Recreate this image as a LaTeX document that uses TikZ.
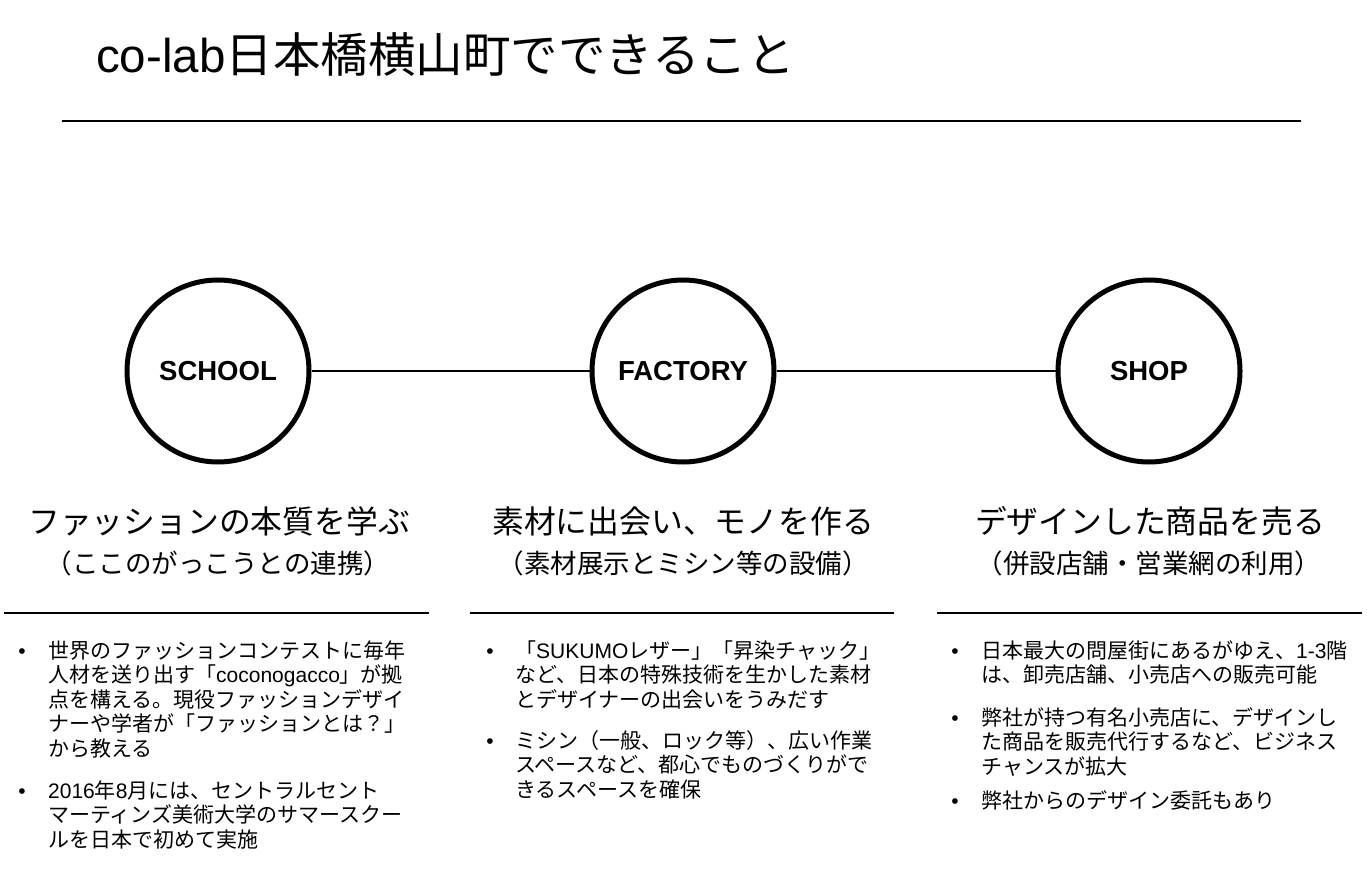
\documentclass[tikz,border=0pt]{standalone}
\usepackage{fontspec}
\setmainfont{Noto Sans CJK JP}
\newfontfamily\lat{Liberation Sans}
\begin{document}
\begin{tikzpicture}[x=1pt,y=-1pt,
  hub/.style={circle, draw, line width=5pt, minimum size=182pt, inner sep=0pt, font=\lat\bfseries\fontsize{27.5}{30}\selectfont},
  link/.style={line width=2pt},
  rule/.style={line width=2pt},
  title/.style={anchor=base west, inner sep=0pt, font=\fontsize{47.5}{52}\selectfont},
  head/.style={anchor=base, inner sep=0pt, font=\fontsize{31.8}{36}\selectfont},
  subhead/.style={anchor=base, inner sep=0pt, font=\fontsize{26.5}{30}\selectfont},
  body/.style={anchor=base west, inner sep=0pt, align=left, font=\fontsize{21}{24.6}\selectfont},
  dot/.style={anchor=base, inner sep=0pt, font=\lat\fontsize{21}{24.6}\selectfont},
]
\useasboundingbox[fill=white] (0,0) rectangle (1367,877);

% title
\node[title] (ttl) at (96,73) {{\lat co-lab}日本橋横山町でできること};
\coordinate (t0) at (62,121);
\coordinate (t1) at (1301,121);
\draw[rule] (t0) -- (t1);

% circles
\node[hub] (school) at (218,371) {SCHOOL};
\node[hub] (factory) at (683,371) {FACTORY};
\node[hub] (shop) at (1149,371) {SHOP};
\draw[link] (school) -- (factory);
\draw[link] (factory) -- (shop);

% headings
\node[head] (h1) at (219,533) {ファッションの本質を学ぶ};
\node[subhead] (s1) at (218,573) {（ここのがっこうとの連携）};
\node[head] (h2) at (683,533) {素材に出会い、モノを作る};
\node[subhead] (s2) at (683,573) {（素材展示とミシン等の設備）};
\node[head] (h3) at (1150,533) {デザインした商品を売る};
\node[subhead] (s3) at (1149,573) {（併設店舗・営業網の利用）};

% separators
\coordinate (a0) at (4,613);   \coordinate (a1) at (429,613);
\coordinate (b0) at (470,613); \coordinate (b1) at (894,613);
\coordinate (c0) at (937,613); \coordinate (c1) at (1362,613);
\draw[rule] (a0) -- (a1);
\draw[rule] (b0) -- (b1);
\draw[rule] (c0) -- (c1);

% left column (body nodes anchored on the baseline of their last line)
\node[dot] (d11) at (22,658) {•};
\node[body] (p11) at (48,756.4) {世界のファッションコンテストに毎年\\人材を送り出す「{\lat coconogacco}」が拠\\点を構える。現役ファッションデザイ\\ナーや学者が「ファッションとは？」\\から教える};
\node[dot] (d12) at (22,798) {•};
\node[body] (p12) at (48,847.2) {{\lat 2016}年{\lat 8}月には、セントラルセント\\マーティンズ美術大学のサマースクー\\ルを日本で初めて実施};

% middle column
\node[dot] (d21) at (490,658) {•};
\node[body] (p21) at (515,707.2) {「{\lat SUKUMO}レザー」「昇染チャック」\\など、日本の特殊技術を生かした素材\\とデザイナーの出会いをうみだす};
\node[dot] (d22) at (490,748) {•};
\node[body] (p22) at (515,797.2) {ミシン（一般、ロック等）、広い作業\\スペースなど、都心でものづくりがで\\きるスペースを確保};

% right column
\node[dot] (d31) at (955,658) {•};
\node[body] (p31) at (981,682.6) {日本最大の問屋街にあるがゆえ、{\lat 1-3}階\\は、卸売店舗、小売店への販売可能};
\node[dot] (d32) at (955,725) {•};
\node[body] (p32) at (981,774.2) {弊社が持つ有名小売店に、デザインし\\た商品を販売代行するなど、ビジネス\\チャンスが拡大};
\node[dot] (d33) at (955,808) {•};
\node[body] (p33) at (981,808) {弊社からのデザイン委託もあり};
\end{tikzpicture}
\end{document}
